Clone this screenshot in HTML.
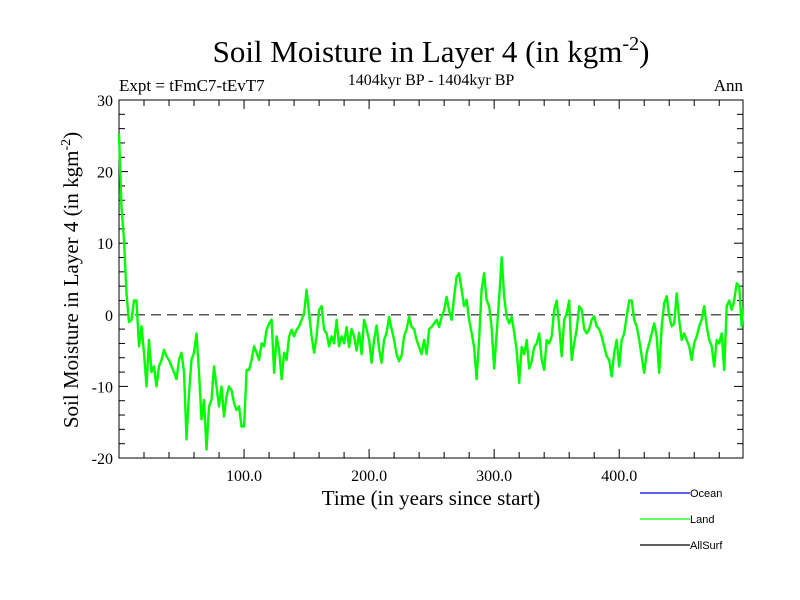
<!DOCTYPE html>
<html><head><meta charset="utf-8"><style>
body{margin:0;background:#fff;}
svg{display:block;font-family:"Liberation Serif",serif;}
</style></head><body>
<svg id="chart" width="800" height="600" xmlns="http://www.w3.org/2000/svg">
<rect width="800" height="600" fill="#fff"/>
<text x="431" y="62" font-size="31" text-anchor="middle">Soil Moisture in Layer 4 (in kgm<tspan dy="-12" font-size="20">-2</tspan><tspan dy="12">)</tspan></text>
<text x="431" y="85" font-size="16" text-anchor="middle">1404kyr BP - 1404kyr BP</text>
<text x="119" y="91" font-size="17">Expt = tFmC7-tEvT7</text>
<text x="743" y="91" font-size="17" text-anchor="end">Ann</text>
<text x="431" y="505" font-size="21" text-anchor="middle">Time (in years since start)</text>
<text transform="translate(78,280) rotate(-90)" font-size="21" text-anchor="middle">Soil Moisture in Layer 4 (in kgm<tspan dy="-8" font-size="14">-2</tspan><tspan dy="8">)</tspan></text>
<g id="axes"></g>
<g id="series"></g>
<g font-family="Liberation Sans, sans-serif" font-size="11">
<line x1="640" y1="493" x2="690" y2="493" stroke="#0000ff" stroke-width="1.2"/>
<text x="690" y="497">Ocean</text>
<line x1="640" y1="519" x2="690" y2="519" stroke="#00ff00" stroke-width="1.2"/>
<text x="690" y="523">Land</text>
<line x1="640" y1="545" x2="690" y2="545" stroke="#000" stroke-width="1.2"/>
<text x="690" y="549">AllSurf</text>
</g>
</svg>
<script>
const years = [0,2,4,6,8,10,12,14,16,18,20,22,24,26,28,30,32,34,36,38,40,42,44,46,48,50,52,54,56,58,60,62,64,66,68,70,72,74,76,78,80,82,84,86,88,90,92,94,96,98,100,102,104,106,108,110,112,114,116,118,120,122,124,126,128,130,132,134,136,138,140,142,144,146,148,150,152,154,156,158,160,162,164,166,168,170,172,174,176,178,180,182,184,186,188,190,192,194,196,198,200,202,204,206,208,210,212,214,216,218,220,222,224,226,228,230,232,234,236,238,240,242,244,246,248,250,252,254,256,258,260,262,264,266,268,270,272,274,276,278,280,282,284,286,288,290,292,294,296,298,300,302,304,306,308,310,312,314,316,318,320,322,324,326,328,330,332,334,336,338,340,342,344,346,348,350,352,354,356,358,360,362,364,366,368,370,372,374,376,378,380,382,384,386,388,390,392,394,396,398,400,402,404,406,408,410,412,414,416,418,420,422,424,426,428,430,432,434,436,438,440,442,444,446,448,450,452,454,456,458,460,462,464,466,468,470,472,474,476,478,480,482,484,486,488,490,492,494,496,498,499];
const landValues = [25.3,15,10.5,3,-1,-0.7,2,2,-4.4,-1.6,-5.3,-10,-3.5,-8,-7.2,-10,-7.2,-6.3,-4.9,-5.8,-6.3,-7.2,-8,-9,-6.3,-5.3,-8,-17.4,-11,-6.3,-5.3,-2.6,-8,-14.6,-11.9,-18.8,-12.8,-11.9,-7.2,-10,-12.8,-10,-14.2,-11.4,-10,-10.5,-12.3,-13.3,-12.8,-15.6,-15.6,-7.7,-7.7,-6.3,-4.4,-5.3,-6.3,-4,-4.4,-2.1,-1.2,-0.7,-8.1,-3,-4.9,-9,-5.3,-6.3,-3,-2.1,-3,-2.1,-1.6,-0.7,0.2,3.5,0.2,-3,-5.3,-3,0.7,1.2,-2.1,-2.6,-4.4,-3,-4,-0.7,-4.4,-3,-4,-1.7,-4.5,-2,-3,-5,-2.5,-5.5,-0.7,-2,-3.5,-6.7,-3.5,-1.5,-4.8,-6.7,-3.5,-2.5,-0.3,-2,-3.5,-5.5,-6.5,-5.7,-3,-2,-0.3,-1.7,-2,-3.5,-4.5,-5.5,-3.5,-5.5,-2,-1.7,-1.2,-0.7,-1.7,-0.3,0.6,2.5,0.6,-0.7,2.5,5.3,5.8,3.5,1.2,2.1,-0.7,-2.5,-4.5,-9,-3.5,3.5,5.8,2.1,1.2,-1.7,-7.5,-2.5,2.5,8,2.5,-0.3,-1.2,-0.3,-2.5,-5,-9.5,-4.5,-5.5,-3.5,-7.5,-6.5,-4.5,-4,-2.6,-6.3,-7.7,-3.5,-4,-3,0.7,2,-1.6,-5.8,-0.7,0.2,2,-6.3,-4,-2,1.2,0.7,-2,-2.6,-2,-0.7,-0.2,-1.6,-2,-3,-4.4,-5.8,-6.3,-8.6,-5.3,-3.5,-7.2,-3.5,-2.6,-0.2,2,2,-0.7,-1.6,-3.5,-5.8,-8.1,-5.3,-4,-2.6,-1.2,-3,-8.1,-1.6,1.6,2.6,-0.2,-1.6,-1.2,3,-0.7,-3.5,-2.6,-3.5,-4.4,-6.3,-4,-3,-1.6,-0.7,1.2,-1.6,-3.5,-4.4,-7.2,-3.5,-4,-2.6,-7.7,1.2,2,0.7,2,4.4,4,-1.6,1];
const yTickValues = [30,20,10,0,-10,-20];
const xTickValues = [100,200,300,400];
const xTickLabels = ["100.0","200.0","300.0","400.0"];

const X0=119,X1=743,Y0=100,Y1=458,XMIN=0,XMAX=499,YMIN=-20,YMAX=30;
const sx=v=>X0+(v-XMIN)/(XMAX-XMIN)*(X1-X0);
const sy=v=>Y1-(v-YMIN)/(YMAX-YMIN)*(Y1-Y0);
const NS="http://www.w3.org/2000/svg";
const axes=document.getElementById('axes');
function mk(tag,attrs,parent){const e=document.createElementNS(NS,tag);for(const k in attrs)e.setAttribute(k,attrs[k]);parent.appendChild(e);return e;}

const frame=mk('rect',{x:X0,y:Y0,width:X1-X0,height:Y1-Y0,fill:'none',stroke:'#000','stroke-width':1},axes);



for(let v=YMIN;v<=YMAX;v+=2){
  const y=sy(v), L=(v%10===0)?9:6;
  const t1=mk('line',{x1:X0,y1:y,x2:X0+L,y2:y,stroke:'#000'},axes);
  
  
  const t2=mk('line',{x1:X1,y1:y,x2:X1-L,y2:y,stroke:'#000'},axes);
  
  
}
yTickValues.forEach(v=>{
  const t=mk('text',{x:X0-6,y:sy(v)+6,'font-size':16,'text-anchor':'end'},axes);
  t.textContent=v;
  
  
});
for(let v=20;v<XMAX;v+=20){
  const x=sx(v), L=(v%100===0)?9:6;
  const t1=mk('line',{x1:x,y1:Y1,x2:x,y2:Y1-L,stroke:'#000'},axes);
  
  
  const t2=mk('line',{x1:x,y1:Y0,x2:x,y2:Y0+L,stroke:'#000'},axes);
  
  
}
xTickValues.forEach((v,i)=>{
  const t=mk('text',{x:sx(v),y:Y1+23,'font-size':16,'text-anchor':'middle'},axes);
  t.textContent=xTickLabels[i];
  
  
});
const zl=mk('line',{x1:X0,y1:sy(0),x2:X1,y2:sy(0),stroke:'#555','stroke-width':1.5,'stroke-dasharray':'10,6'},axes);



const series=document.getElementById('series');
const d=years.map((y,i)=>(i?'L':'M')+sx(y).toFixed(1)+','+sy(landValues[i]).toFixed(1)).join(' ');
const p=mk('path',{d:d,fill:'none',stroke:'#00ff00','stroke-width':2.4,'stroke-linejoin':'round'},series);


</script>
</body></html>
